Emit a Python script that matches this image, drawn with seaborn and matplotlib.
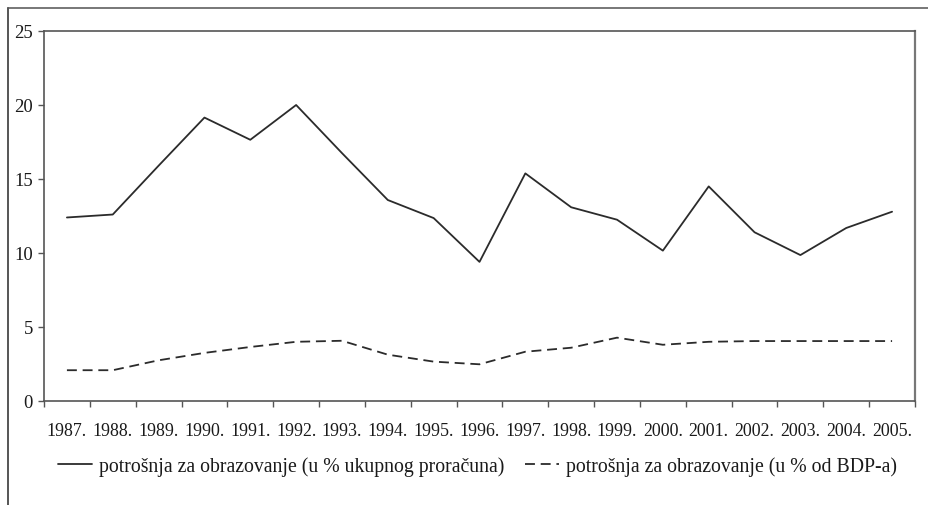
import matplotlib
matplotlib.use("Agg")
import matplotlib.pyplot as plt
from matplotlib.lines import Line2D
import seaborn as sns
import pandas as pd
import numpy as np

years = ["1987.", "1988.", "1989.", "1990.", "1991.", "1992.", "1993.", "1994.", "1995.", "1996.",
         "1997.", "1998.", "1999.", "2000.", "2001.", "2002.", "2003.", "2004.", "2005."]
budget_share = [12.4, 12.6, 15.9, 19.15, 17.65, 20.0, 16.75, 13.58, 12.36, 9.4,
                15.38, 13.09, 12.25, 10.16, 14.5, 11.4, 9.86, 11.69, 12.79]
gdp_share = [2.08, 2.08, 2.75, 3.25, 3.65, 4.0, 4.07, 3.13, 2.66, 2.48,
             3.33, 3.6, 4.28, 3.8, 4.0, 4.05, 4.05, 4.05, 4.05]
series_names = ["potrošnja za obrazovanje (u % ukupnog proračuna)",
                "potrošnja za obrazovanje (u % od BDP-a)"]

sns.set_theme(style="white")
plt.rcParams["font.family"] = ["Liberation Serif", "DejaVu Serif"]

df = pd.DataFrame({
    "idx": list(range(len(years))) * 2,
    "value": budget_share + gdp_share,
    "series": [series_names[0]] * len(years) + [series_names[1]] * len(years),
})

fig = plt.figure(figsize=(9.29, 5.06), dpi=100)
ax = fig.add_axes([44 / 929, 1 - 402 / 506, (915 - 44) / 929, (402 - 32) / 506])

line_color = "#2b2b2b"
dash_pattern = (5.5, 3.2)
sns.lineplot(data=df, x="idx", y="value", style="series",
             dashes={series_names[0]: "", series_names[1]: dash_pattern},
             color=line_color, linewidth=1.3, legend=False, ax=ax)

ax.set_xlim(-0.5, len(years) - 0.5)
ax.set_ylim(0, 25)
ax.set_yticks([0, 5, 10, 15, 20, 25])
ax.set_xticks(range(len(years)))
ax.set_xticklabels(years)
ax.set_xticks(np.arange(-0.5, len(years), 1.0), minor=True)
ax.tick_params(axis="x", which="major", length=0, pad=15, labelsize=12.9, colors="#1a1a1a")
ax.tick_params(axis="x", which="minor", length=4, width=1, color="#555555", direction="out", bottom=True)
ax.tick_params(axis="y", length=4, width=1, color="#555555", direction="out", left=True,
               labelsize=13.4, colors="#1a1a1a", pad=4)
ax.set_xlabel("")
ax.set_ylabel("")
for side in ["left", "right", "top", "bottom"]:
    ax.spines[side].set_visible(True)
    ax.spines[side].set_color("#555555")
    ax.spines[side].set_linewidth(1.2)
ax.spines["right"].set_linewidth(1.6)
ax.spines["right"].set_color("#777777")

handles = [Line2D([], [], color=line_color, linewidth=1.3),
           Line2D([], [], color=line_color, linewidth=1.3, dashes=dash_pattern)]
fig.legend(handles, series_names, loc="center", bbox_to_anchor=(0.514, 1 - 467 / 506),
           ncol=2, frameon=False, fontsize=14.2, handlelength=1.72, handletextpad=0.36,
           columnspacing=1.07, labelcolor="#1a1a1a")

# outer frame (top and left edges)
fig.add_artist(Line2D([8 / 929, 1.0], [1 - 9 / 506, 1 - 9 / 506], transform=fig.transFigure,
                      color="#777777", linewidth=1.4))
fig.add_artist(Line2D([8 / 929, 8 / 929], [0.0, 1 - 9 / 506], transform=fig.transFigure,
                      color="#555555", linewidth=1.4))

fig.savefig("out.png", dpi=100)
